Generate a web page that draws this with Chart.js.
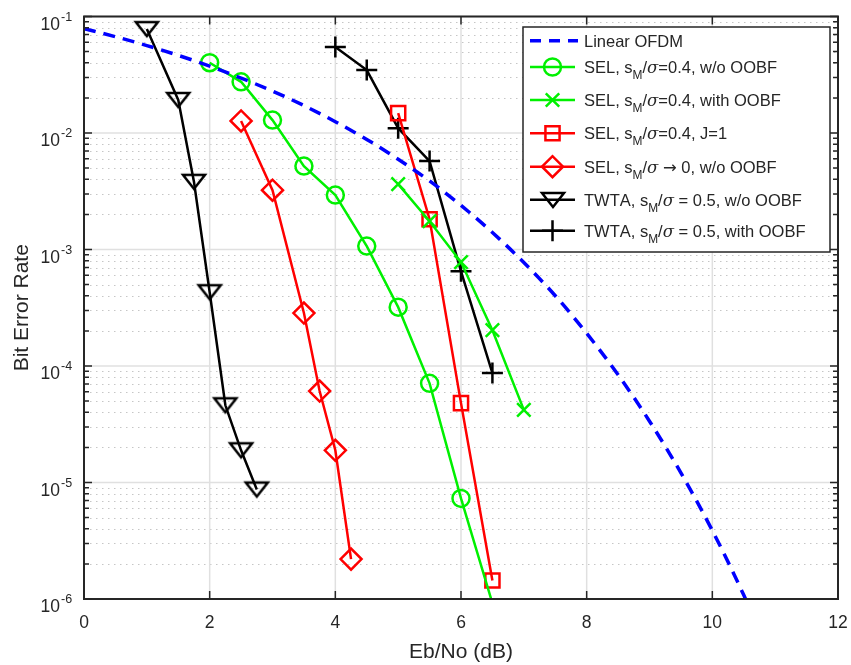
<!DOCTYPE html>
<html>
<head>
<meta charset="utf-8">
<script src="https://cdn.jsdelivr.net/npm/chart.js@4.4.1/dist/chart.umd.min.js"></script>
<style>
  html, body { margin: 0; padding: 0; background: #ffffff; }
  canvas { display: block; }
</style>
</head>
<body>
<canvas id="ber" width="851" height="665"></canvas>
<script>
// ---- BER curves: Eb/No in dB, bit error rate ----
const ofdmEbNo = [0, 0.5, 1, 1.5, 2, 2.5, 3, 3.5, 4, 4.5, 5, 5.5, 6, 6.5, 7, 7.5, 8, 8.5, 9, 9.5, 10, 10.5, 11];
const ofdmBer  = [0.0786, 0.0671, 0.0563, 0.0464, 0.0375, 0.0296, 0.0229, 0.0172, 0.0125, 0.00881, 0.00595,
                  0.00388, 0.00239, 0.00140, 7.73e-4, 4.01e-4, 1.91e-4, 8.4e-5, 3.36e-5, 1.21e-5, 3.87e-6, 1.08e-6, 2.6e-7];

const selEbNo    = [2, 2.5, 3, 3.5, 4, 4.5, 5, 5.5, 6, 6.5];
const selBer     = [0.0401, 0.0275, 0.0129, 0.0052, 0.00293, 0.00107, 3.2e-4, 7.1e-5, 7.3e-6, 9.2e-7];

const selOobfEbNo = [5, 5.5, 6, 6.5, 7];
const selOobfBer  = [0.00364, 0.00175, 7.8e-4, 2.03e-4, 4.2e-5];

const selJ1EbNo = [5, 5.5, 6, 6.5];
const selJ1Ber  = [0.0148, 0.00182, 4.8e-5, 1.44e-6];

const selZeroEbNo = [2.5, 3, 3.5, 3.75, 4, 4.25];
const selZeroBer  = [0.0127, 0.00323, 2.85e-4, 6.1e-5, 1.89e-5, 2.2e-6];

const twtaEbNo = [1, 1.5, 1.75, 2, 2.25, 2.5, 2.75];
const twtaBer  = [0.078, 0.0192, 0.00381, 4.3e-4, 4.6e-5, 1.89e-5, 8.7e-6];

const twtaOobfEbNo = [4, 4.5, 5, 5.5, 6, 6.5];
const twtaOobfBer  = [0.0547, 0.0347, 0.011, 0.00574, 6.5e-4, 8.7e-5];

// ---- axes ----
const xTicks      = [0, 2, 4, 6, 8, 10, 12];
const xTickLabels = ['0', '2', '4', '6', '8', '10', '12'];
const yDecades    = [-1, -2, -3, -4, -5, -6];
const yTickBase   = '10';
const yTickExps   = ['-1', '-2', '-3', '-4', '-5', '-6'];
const xTitle = 'Eb/No (dB)';
const yTitle = 'Bit Error Rate';

// ---- legend entries (_X = subscript X) ----
const legendLabels = [
  'Linear OFDM',
  'SEL, s_M/σ=0.4, w/o OOBF',
  'SEL, s_M/σ=0.4, with OOBF',
  'SEL, s_M/σ=0.4, J=1',
  'SEL, s_M/σ → 0, w/o OOBF',
  'TWTA, s_M/σ = 0.5, w/o OOBF',
  'TWTA, s_M/σ = 0.5, with OOBF'
];

const FONT = '"Liberation Sans", Arial, Helvetica, sans-serif';
const TEXT = '#262626';
const Y_MIN = 1e-6, Y_MAX = 1e-1;

function pairs(xs, ys) { return xs.map((x, i) => ({ x: x, y: ys[i] })); }

// open downward triangle marker, centred on its bounding box
function triangleDown(color, w, h, lw) {
  const pad = Math.ceil(lw) + 1;
  const c = document.createElement('canvas');
  c.width = w + 2 * pad; c.height = h + 2 * pad;
  const g = c.getContext('2d');
  g.strokeStyle = color; g.lineWidth = lw; g.lineJoin = 'miter';
  g.beginPath();
  g.moveTo(pad, pad); g.lineTo(pad + w, pad); g.lineTo(pad + w / 2, pad + h); g.closePath();
  g.stroke();
  return c;
}
const triMarker = triangleDown('#000000', 22, 14, 2.5);

// hide markers whose point lies below the axis
function visibleRadius(r) {
  return ctx => (ctx.raw && ctx.raw.y < Y_MIN) ? 0 : r;
}

function series(label, xs, ys, color, style, radius, extra) {
  return Object.assign({
    label: label,
    data: pairs(xs, ys),
    borderColor: color,
    backgroundColor: 'rgba(0,0,0,0)',
    borderWidth: 2.5,
    pointStyle: style,
    pointRadius: visibleRadius(radius),
    pointBorderColor: color,
    pointBackgroundColor: 'rgba(0,0,0,0)',
    pointBorderWidth: 2.5,
    tension: 0
  }, extra || {});
}

const datasets = [
  series(legendLabels[0], ofdmEbNo, ofdmBer, '#0000ff', 'line', 0,
         { borderWidth: 3.5, borderDash: [12, 8], cubicInterpolationMode: 'monotone', pointRadius: 0 }),
  series(legendLabels[1], selEbNo, selBer, '#00f000', 'circle', 8.5),
  series(legendLabels[2], selOobfEbNo, selOobfBer, '#00f000', 'crossRot', 9.5),
  series(legendLabels[3], selJ1EbNo, selJ1Ber, '#ff0000', 'rect', 10),
  series(legendLabels[4], selZeroEbNo, selZeroBer, '#ff0000', 'rectRot', 10.5),
  series(legendLabels[5], twtaEbNo, twtaBer, '#000000', triMarker, 10),
  series(legendLabels[6], twtaOobfEbNo, twtaOobfBer, '#000000', 'cross', 10.5)
];

function drawMarker(ctx, style, x, y, r, color) {
  ctx.save();
  ctx.strokeStyle = color; ctx.lineWidth = 2.5;
  if (typeof style === 'object') {
    ctx.drawImage(style, Math.round(x - style.width / 2), Math.round(y - style.height / 2));
    ctx.restore();
    return;
  }
  ctx.beginPath();
  if (style === 'circle') {
    ctx.arc(x, y, r, 0, Math.PI * 2);
  } else if (style === 'rect') {
    const s = r * Math.SQRT1_2;
    ctx.rect(x - s, y - s, 2 * s, 2 * s);
  } else if (style === 'rectRot') {
    ctx.moveTo(x - r, y); ctx.lineTo(x, y - r); ctx.lineTo(x + r, y); ctx.lineTo(x, y + r); ctx.closePath();
  } else if (style === 'cross') {
    ctx.moveTo(x - r, y); ctx.lineTo(x + r, y); ctx.moveTo(x, y - r); ctx.lineTo(x, y + r);
  } else if (style === 'crossRot') {
    const s = r * Math.SQRT1_2;
    ctx.moveTo(x - s, y - s); ctx.lineTo(x + s, y + s); ctx.moveTo(x - s, y + s); ctx.lineTo(x + s, y - s);
  }
  ctx.stroke();
  ctx.restore();
}

// text with "_X" subscripts, an italic sigma and a full-size arrow
function drawRich(ctx, str, x, baseline, size) {
  let cx = x;
  for (let i = 0; i < str.length; i++) {
    let ch = str[i];
    let font = size + 'px ' + FONT, dy = 0;
    if (ch === '_') { ch = str[++i]; font = (size * 0.72) + 'px ' + FONT; dy = size * 0.36; }
    else if (ch === 'σ') { font = 'italic ' + size + 'px "DejaVu Serif", serif'; }
    else if (ch === '→') { font = size + 'px "DejaVu Sans", sans-serif'; }
    ctx.font = font;
    ctx.fillText(ch, cx, baseline + dy);
    cx += ctx.measureText(ch).width;
  }
}

const frame = {
  id: 'frame',
  beforeDatasetsDraw(chart) {
    const { ctx, chartArea: a, scales: { x, y } } = chart;
    ctx.save();
    // minor grid (dotted) between decades
    ctx.strokeStyle = '#c6c6c6'; ctx.lineWidth = 1; ctx.setLineDash([1.5, 4.5]);
    for (const d of yDecades) {
      if (d === yDecades[0]) continue;
      for (let m = 2; m <= 9; m++) {
        const py = Math.round(y.getPixelForValue(m * Math.pow(10, d))) + 0.5;
        ctx.beginPath(); ctx.moveTo(a.left, py); ctx.lineTo(a.right, py); ctx.stroke();
      }
    }
    // major grid
    ctx.setLineDash([]); ctx.strokeStyle = '#e0e0e0'; ctx.lineWidth = 1.5;
    for (const v of xTicks) {
      const px = x.getPixelForValue(v);
      ctx.beginPath(); ctx.moveTo(px, a.top); ctx.lineTo(px, a.bottom); ctx.stroke();
    }
    for (const d of yDecades) {
      const py = y.getPixelForValue(Math.pow(10, d));
      ctx.beginPath(); ctx.moveTo(a.left, py); ctx.lineTo(a.right, py); ctx.stroke();
    }
    ctx.restore();
  },
  afterDatasetsDraw(chart) {
    const { ctx, chartArea: a, scales: { x, y } } = chart;
    ctx.save();
    // axes box
    ctx.strokeStyle = TEXT; ctx.lineWidth = 2;
    ctx.strokeRect(a.left, a.top, a.right - a.left, a.bottom - a.top);
    // inward ticks
    ctx.lineWidth = 1.5;
    ctx.beginPath();
    for (const v of xTicks) {
      const px = x.getPixelForValue(v);
      ctx.moveTo(px, a.bottom); ctx.lineTo(px, a.bottom - 8);
      ctx.moveTo(px, a.top); ctx.lineTo(px, a.top + 8);
    }
    for (const d of yDecades) {
      const py = y.getPixelForValue(Math.pow(10, d));
      ctx.moveTo(a.left, py); ctx.lineTo(a.left + 8, py);
      ctx.moveTo(a.right, py); ctx.lineTo(a.right - 8, py);
      if (d === yDecades[0]) continue;
      for (let m = 2; m <= 9; m++) {
        const pm = y.getPixelForValue(m * Math.pow(10, d));
        ctx.moveTo(a.left, pm); ctx.lineTo(a.left + 5, pm);
        ctx.moveTo(a.right, pm); ctx.lineTo(a.right - 5, pm);
      }
    }
    ctx.stroke();

    // tick labels
    ctx.fillStyle = TEXT;
    ctx.font = '17.5px ' + FONT;
    ctx.textAlign = 'center'; ctx.textBaseline = 'alphabetic';
    xTicks.forEach((v, i) => ctx.fillText(xTickLabels[i], x.getPixelForValue(v), 628));
    yDecades.forEach((d, i) => {
      const py = y.getPixelForValue(Math.pow(10, d));
      ctx.font = '17.5px ' + FONT; ctx.textAlign = 'right';
      ctx.fillText(yTickBase, 60, py + 13);
      ctx.font = '12.5px ' + FONT; ctx.textAlign = 'left';
      ctx.fillText(yTickExps[i], 61, py + 4);
    });

    // axis titles
    ctx.font = '21px ' + FONT; ctx.textAlign = 'center';
    ctx.fillText(xTitle, (a.left + a.right) / 2, 658);
    ctx.save();
    ctx.translate(28, (a.top + a.bottom) / 2);
    ctx.rotate(-Math.PI / 2);
    ctx.fillText(yTitle, 0, 0);
    ctx.restore();

    // legend
    const box = { l: 523, t: 27, r: 830, b: 252 };
    const rows = [40.7, 67, 100, 133.3, 166.7, 199.7, 230.7];
    ctx.fillStyle = '#ffffff';
    ctx.fillRect(box.l, box.t, box.r - box.l, box.b - box.t);
    ctx.strokeStyle = TEXT; ctx.lineWidth = 1.5;
    ctx.strokeRect(box.l, box.t, box.r - box.l, box.b - box.t);
    chart.data.datasets.forEach((ds, i) => {
      const ry = rows[i];
      ctx.save();
      ctx.strokeStyle = ds.borderColor; ctx.lineWidth = ds.borderWidth;
      if (ds.borderDash) ctx.setLineDash([11, 8]);
      ctx.beginPath();
      if (ds.borderDash) { ctx.moveTo(530, ry); ctx.lineTo(578, ry); }
      else { ctx.moveTo(530, ry); ctx.lineTo(575, ry); }
      ctx.stroke();
      ctx.restore();
      if (ds.pointStyle !== 'line') {
        const r = typeof ds.pointRadius === 'function' ? ds.pointRadius({}) : ds.pointRadius;
        drawMarker(ctx, ds.pointStyle, 552.5, ry, r, ds.pointBorderColor);
      }
      ctx.fillStyle = TEXT; ctx.textAlign = 'left';
      drawRich(ctx, ds.label, 584, ry + 6, 16.5);
    });
    ctx.restore();
  }
};

new Chart(document.getElementById('ber'), {
  type: 'line',
  data: { datasets: datasets },
  options: {
    responsive: false,
    animation: false,
    devicePixelRatio: 1,
    events: [],
    layout: { padding: { top: 16.5, right: 13, left: 0, bottom: 0 } },
    plugins: { legend: { display: false }, tooltip: { enabled: false } },
    scales: {
      x: {
        type: 'linear', min: 0, max: 12,
        grid: { display: false }, border: { display: false },
        ticks: { display: false },
        afterFit(s) { s.height = 66; }
      },
      y: {
        type: 'logarithmic', min: Y_MIN, max: Y_MAX,
        grid: { display: false }, border: { display: false },
        ticks: { display: false },
        afterFit(s) { s.width = 84; }
      }
    }
  },
  plugins: [frame]
});
</script>
</body>
</html>
